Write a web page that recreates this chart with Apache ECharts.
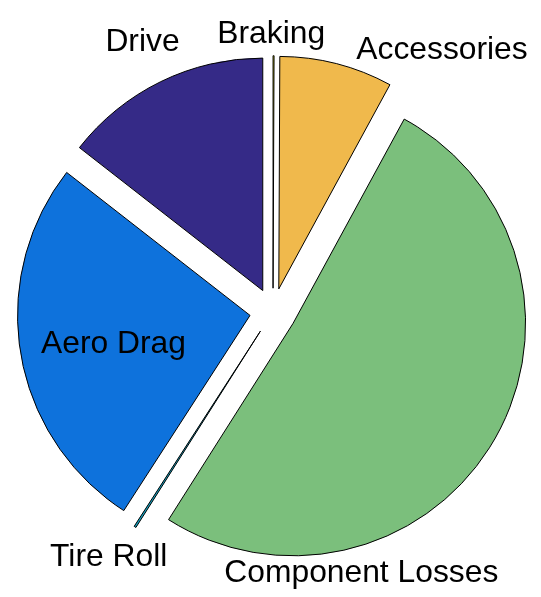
<!DOCTYPE html>
<html><head><meta charset="utf-8">
<script src="https://cdn.jsdelivr.net/npm/echarts@6/dist/echarts.min.js"></script>
<style>html,body{margin:0;padding:0;background:#fff}#c{width:541px;height:597px}</style>
</head><body><div id="c"></div>
<script>
// Data (slices drawn counter-clockwise from 12 o'clock)
const categories = ['Drive', 'Aero Drag', 'Tire Roll', 'Component Losses', 'Accessories', 'Braking'];
const values = [14.46, 26.40, 0.14, 51.06, 7.86, 0.07];
// Styles / layout (not data)
const colors = ['#352a87', '#0e72dc', '#14a4c4', '#7bbf7c', '#f0b94c', '#f9fb0e'];
const labelAnchors = [[142.5, 42.5], [113.5, 344.5], [108.7, 557], [361.3, 573.5], [442, 50], [271.2, 34.5]];
const FONT = '31.8px "Liberation Sans", Arial, sans-serif';

const chart = echarts.init(document.getElementById('c'), null, {renderer: 'canvas'});
chart.setOption({
  animation: false,
  backgroundColor: '#fff',
  series: [{
    type: 'pie',
    center: [273, 311.5],
    radius: 232.5,
    startAngle: 90,
    clockwise: false,
    selectedMode: 'multiple',
    selectedOffset: 23.3,
    emphasis: {disabled: true},
    itemStyle: {borderColor: '#000', borderWidth: 1},
    label: {show: false},
    labelLine: {show: false},
    data: categories.map((c, i) => ({
      name: c,
      value: values[i],
      selected: true,
      itemStyle: {color: colors[i]}
    }))
  }],
  graphic: categories.map((c, i) => ({
    type: 'text',
    x: labelAnchors[i][0],
    y: labelAnchors[i][1],
    z: 100,
    style: {
      text: c,
      font: FONT,
      fill: '#000',
      align: 'center',
      verticalAlign: 'middle'
    }
  }))
});
</script></body></html>
